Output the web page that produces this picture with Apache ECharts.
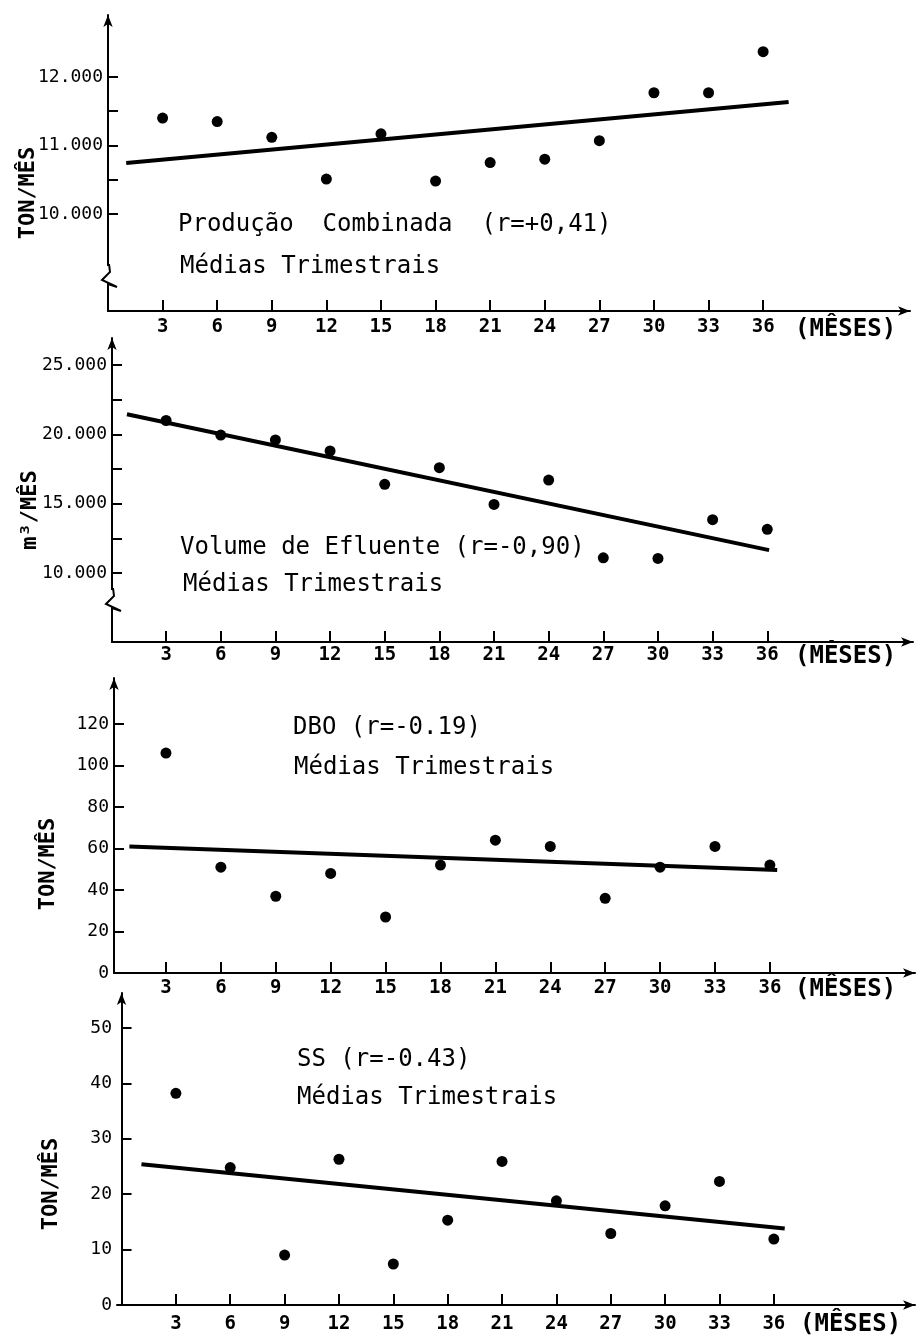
<!DOCTYPE html>
<html>
<head>
<meta charset="utf-8">
<script src="https://cdn.jsdelivr.net/npm/echarts@6/dist/echarts.min.js"></script>
<style>
  html, body { margin: 0; padding: 0; background: #fff; }
  #chart { width: 917px; height: 1336px; }
</style>
</head>
<body>
<div id="chart"></div>
<script>
// meses (médias trimestrais)
const months = [3, 6, 9, 12, 15, 18, 21, 24, 27, 30, 33, 36]

// valores
const producao = [11400, 11350, 11120, 10510, 11170, 10480, 10750, 10800, 11070, 11770, 11770, 12370]
const volume = [21000, 19950, 19600, 18800, 16400, 17600, 14950, 16700, 11100, 11050, 13850, 13150]
const dbo = [106, 51, 37, 48, 27, 52, 64, 61, 36, 51, 61, 52]
const ss = [38.2, 24.8, 9.0, 26.3, 7.4, 15.3, 25.9, 18.8, 12.9, 17.9, 22.3, 11.9]

// retas de regressão (extremos)
const producaoTrend = [[1, 10745], [37.4, 11635]]
const volumeTrend = [[0.85, 21450], [36.1, 11650]]
const dboTrend = [[1, 61], [36.4, 49.6]]
const ssTrend = [[1.1, 25.4], [36.6, 13.8]]

// marcas dos eixos
const producaoTicks = [10000, 10500, 11000, 11500, 12000]
const producaoLabels = [10000, 11000, 12000]
const volumeTicks = [10000, 12500, 15000, 17500, 20000, 22500, 25000]
const volumeLabels = [10000, 15000, 20000, 25000]
const dboTicks = [20, 40, 60, 80, 100, 120]
const dboLabels = [0, 20, 40, 60, 80, 100, 120]
const ssTicks = [10, 20, 30, 40, 50]
const ssLabels = [0, 10, 20, 30, 40, 50]

const FONT = '"DejaVu Sans Mono", "Liberation Mono", monospace'
const INK = '#000'

function fmt(v) {
  return v >= 1000 ? String(v).replace(/\B(?=(\d{3})+$)/g, '.') : String(v)
}

const axisLine = {
  show: true,
  symbol: ['none', 'arrow'],
  symbolSize: [7, 12],
  lineStyle: { color: INK, width: 2 }
}

function xAxis(idx, min, max, margin) {
  return {
    type: 'value',
    gridIndex: idx,
    min, max,
    splitLine: { show: false },
    axisLine,
    axisTick: { show: true, inside: true, length: 11, customValues: months, lineStyle: { color: INK, width: 2 } },
    axisLabel: { customValues: months, margin, color: INK, fontFamily: FONT, fontSize: 19, fontWeight: 'bold' }
  }
}

function yAxis(idx, min, max, ticks, labels) {
  return {
    type: 'value',
    gridIndex: idx,
    min, max,
    splitLine: { show: false },
    axisLine,
    axisTick: { show: true, inside: true, length: 10, customValues: ticks, lineStyle: { color: INK, width: 2 } },
    axisLabel: { customValues: labels, margin: 5, color: INK, fontFamily: FONT, fontSize: 18, formatter: fmt }
  }
}

function pts(values) {
  return months.map((m, i) => [m, values[i]])
}

function scatter(idx, values) {
  return {
    type: 'scatter', xAxisIndex: idx, yAxisIndex: idx,
    data: pts(values), symbolSize: 11,
    itemStyle: { color: INK, opacity: 1 }, silent: true
  }
}

function trend(idx, line) {
  return {
    type: 'line', xAxisIndex: idx, yAxisIndex: idx,
    data: line, showSymbol: false, symbol: 'none',
    lineStyle: { color: INK, width: 4 }, silent: true
  }
}

function text(x, y, str, size, weight) {
  return {
    type: 'text', x, y, z: 10,
    style: {
      text: str, fill: INK, fontFamily: FONT, fontSize: size, fontWeight: weight || 'normal',
      align: 'left', verticalAlign: 'middle', textAlign: 'left', textVerticalAlign: 'middle'
    }
  }
}

function vtext(x, y, str) {
  return {
    type: 'text', x, y, z: 10, rotation: Math.PI / 2,
    style: {
      text: str, fill: INK, fontFamily: FONT, fontSize: 22, fontWeight: 'bold',
      align: 'center', verticalAlign: 'middle', textAlign: 'center', textVerticalAlign: 'middle'
    }
  }
}

// quebra do eixo y
function zigzag(cx, cy) {
  return [
    { type: 'rect', z: 9, shape: { x: cx - 4, y: cy - 16, width: 8, height: 22 }, style: { fill: '#fff' } },
    {
      type: 'polyline', z: 10,
      shape: { points: [[cx + 1, cy - 18], [cx + 2, cy - 10], [cx - 6, cy - 2], [cx + 9, cy + 5], [cx, cy + 2], [cx, cy + 10]] },
      style: { stroke: INK, lineWidth: 2, fill: null }
    }
  ]
}

const chart = echarts.init(document.getElementById('chart'))

chart.setOption({
  backgroundColor: '#fff',
  animation: false,
  grid: [
    { left: 108, top: 15, width: 802, height: 296 },
    { left: 112, top: 338, width: 801, height: 304 },
    { left: 114, top: 678, width: 801, height: 295 },
    { left: 117, top: 993, width: 798, height: 312 }
  ],
  xAxis: [
    xAxis(0, 0, 44.07, 7),
    xAxis(1, 0.03, 44.0, 4),
    xAxis(2, 0.16, 43.93, 6),
    xAxis(3, -0.25, 43.79, 10)
  ],
  yAxis: [
    yAxis(0, 8584, 12905, producaoTicks, producaoLabels),
    yAxis(1, 5025, 26950, volumeTicks, volumeLabels),
    yAxis(2, 0, 142.2, dboTicks, dboLabels),
    yAxis(3, 0, 56.3, ssTicks, ssLabels)
  ],
  series: [
    scatter(0, producao), trend(0, producaoTrend),
    scatter(1, volume), trend(1, volumeTrend),
    scatter(2, dbo), trend(2, dboTrend),
    scatter(3, ss), trend(3, ssTrend)
  ],
  graphic: [
    vtext(28, 193, 'TON/MÊS'),
    vtext(30, 510, 'm³/MÊS'),
    vtext(48, 864, 'TON/MÊS'),
    vtext(51, 1184, 'TON/MÊS'),

    text(178, 225, 'Produção  Combinada  (r=+0,41)', 24),
    text(180, 267, 'Médias Trimestrais', 24),
    text(180, 548, 'Volume de Efluente (r=-0,90)', 24),
    text(183, 585, 'Médias Trimestrais', 24),
    text(293, 728, 'DBO (r=-0.19)', 24),
    text(294, 768, 'Médias Trimestrais', 24),
    text(297, 1060, 'SS (r=-0.43)', 24),
    text(297, 1098, 'Médias Trimestrais', 24),

    text(795, 330, '(MÊSES)', 24, 'bold'),
    text(795, 657, '(MÊSES)', 24, 'bold'),
    text(795, 990, '(MÊSES)', 24, 'bold'),
    text(800, 1325, '(MÊSES)', 24, 'bold'),

    ...zigzag(108, 282),
    ...zigzag(112, 606)
  ]
})
</script>
</body>
</html>
